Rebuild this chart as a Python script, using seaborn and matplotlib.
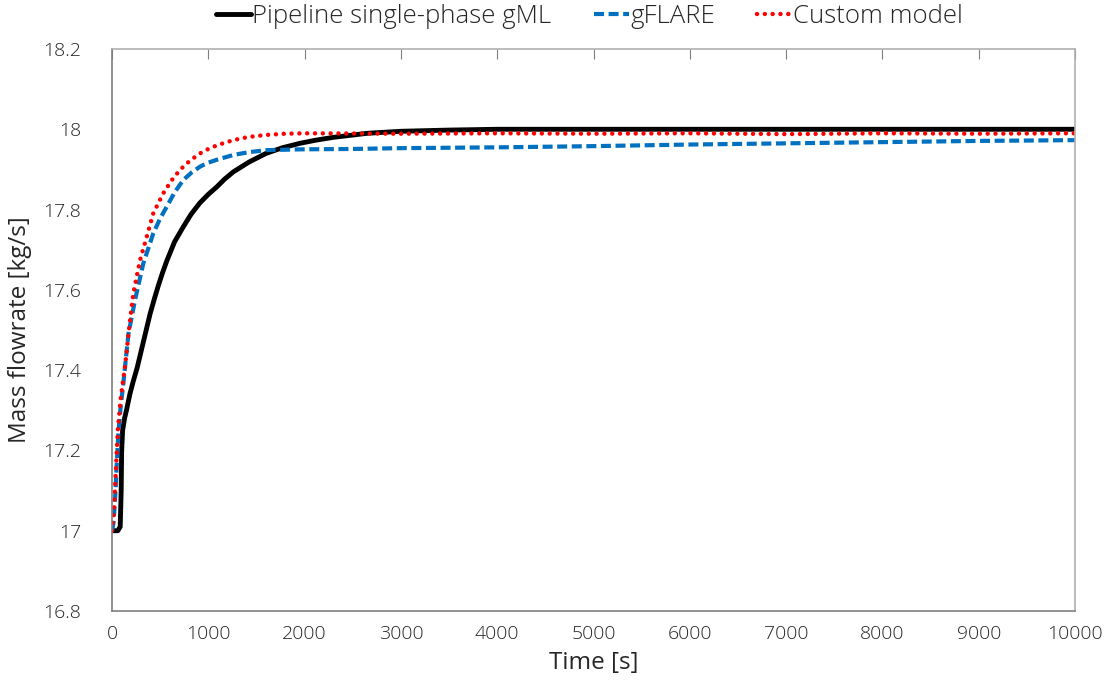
import matplotlib
matplotlib.use("Agg")
import matplotlib.pyplot as plt
import seaborn as sns

# === Data ===
t_gml = [0, 60, 85, 95, 100, 110, 130, 150, 185, 220, 260, 300, 350, 395, 440, 480,
         525, 570, 650, 740, 820, 910, 1000, 1090, 1170, 1260, 1420, 1600, 1770,
         1950, 2120, 2300, 2650, 3000, 3500, 4000, 10000]
m_gml = [17.0, 17.0, 17.01, 17.1, 17.2, 17.25, 17.28, 17.30, 17.34, 17.372, 17.405,
         17.445, 17.495, 17.54, 17.578, 17.61, 17.643, 17.673, 17.72, 17.757, 17.788,
         17.816, 17.838, 17.857, 17.876, 17.894, 17.918, 17.94, 17.954, 17.965,
         17.973, 17.98, 17.99, 17.995, 17.998, 18.0, 18.0]

t_flare = [0, 15, 31, 50, 66, 90, 118, 170, 239, 325, 429, 500, 568, 650, 741, 830,
           914, 1000, 1100, 1260, 1420, 1600, 1950, 2500, 3000, 4000, 5000, 6000,
           7000, 8000, 9000, 10000]
m_flare = [17.0, 17.02, 17.076, 17.17, 17.243, 17.31, 17.368, 17.49, 17.575, 17.666,
           17.741, 17.778, 17.807, 17.843, 17.874, 17.893, 17.907, 17.917, 17.925,
           17.936, 17.943, 17.948, 17.950, 17.951, 17.953, 17.955, 17.958, 17.962,
           17.965, 17.968, 17.971, 17.973]

t_custom = [0, 20, 40, 60, 90, 135, 180, 221, 291, 360, 429, 533, 620, 706, 810, 914,
            1000, 1100, 1260, 1420, 1606, 1800, 2000, 3000, 4000, 5000, 6000, 7000,
            8000, 9000, 10000]
m_custom = [17.0, 17.05, 17.15, 17.25, 17.33, 17.409, 17.51, 17.591, 17.674, 17.732,
            17.791, 17.841, 17.873, 17.899, 17.922, 17.94, 17.951, 17.961, 17.973,
            17.981, 17.986, 17.989, 17.99, 17.989, 17.99, 17.989, 17.99, 17.988,
            17.99, 17.989, 17.99]

labels = ["Pipeline single-phase gML", "gFLARE", "Custom model"]
x_ticks = list(range(0, 10001, 1000))
y_ticks = [16.8, 17, 17.2, 17.4, 17.6, 17.8, 18, 18.2]
y_ticklabels = ["16.8", "17", "17.2", "17.4", "17.6", "17.8", "18", "18.2"]

sns.set_style("white")
plt.rcParams['font.family'] = ['Open Sans', 'DejaVu Sans']
plt.rcParams['font.weight'] = 'light'

fig = plt.figure(figsize=(11.07, 6.93), dpi=100)
ax = fig.add_axes([0.1012, 0.1183, 0.8699, 0.811])

sns.lineplot(x=t_gml, y=m_gml, ax=ax, color="black", linewidth=3.5, label=labels[0])
sns.lineplot(x=t_flare, y=m_flare, ax=ax, color="#0070c0", linewidth=3,
             linestyle=(0, (2.4, 1.1)), label=labels[1])
sns.lineplot(x=t_custom, y=m_custom, ax=ax, color="#ff0000", linewidth=3.2,
             linestyle=(0, (0.01, 1.75)), dash_capstyle="round", label=labels[2])

ax.set_xlim(0, 10000)
ax.set_ylim(16.8, 18.2)
ax.set_xticks(x_ticks)
ax.set_yticks(y_ticks)
ax.set_yticklabels(y_ticklabels)
ax.tick_params(axis="both", labelsize=14, colors="#262626", length=0)
ax.tick_params(axis="x", direction="in", length=7, color="#7f7f7f", top=True, pad=10)
ax.tick_params(axis="y", direction="in", length=6, color="#7f7f7f", pad=22)
ax.set_xlabel("Time [s]", fontsize=17.5, color="#262626", labelpad=6)
ax.set_ylabel("Mass flowrate [kg/s]", fontsize=17.5, color="#262626", labelpad=8)

for side in ["left", "bottom"]:
    ax.spines[side].set_color("#7f7f7f")
    ax.spines[side].set_linewidth(1.2)
for side in ["top", "right"]:
    ax.spines[side].set_color("#b0b0b0")
    ax.spines[side].set_linewidth(1.2)

ax.legend(loc="center", bbox_to_anchor=(0.496, 1.057), ncol=3, frameon=False,
          fontsize=18.5, handlelength=1.36, handletextpad=0.05, columnspacing=1.65,
          labelcolor="#262626")

fig.savefig("out.png", dpi=100)
